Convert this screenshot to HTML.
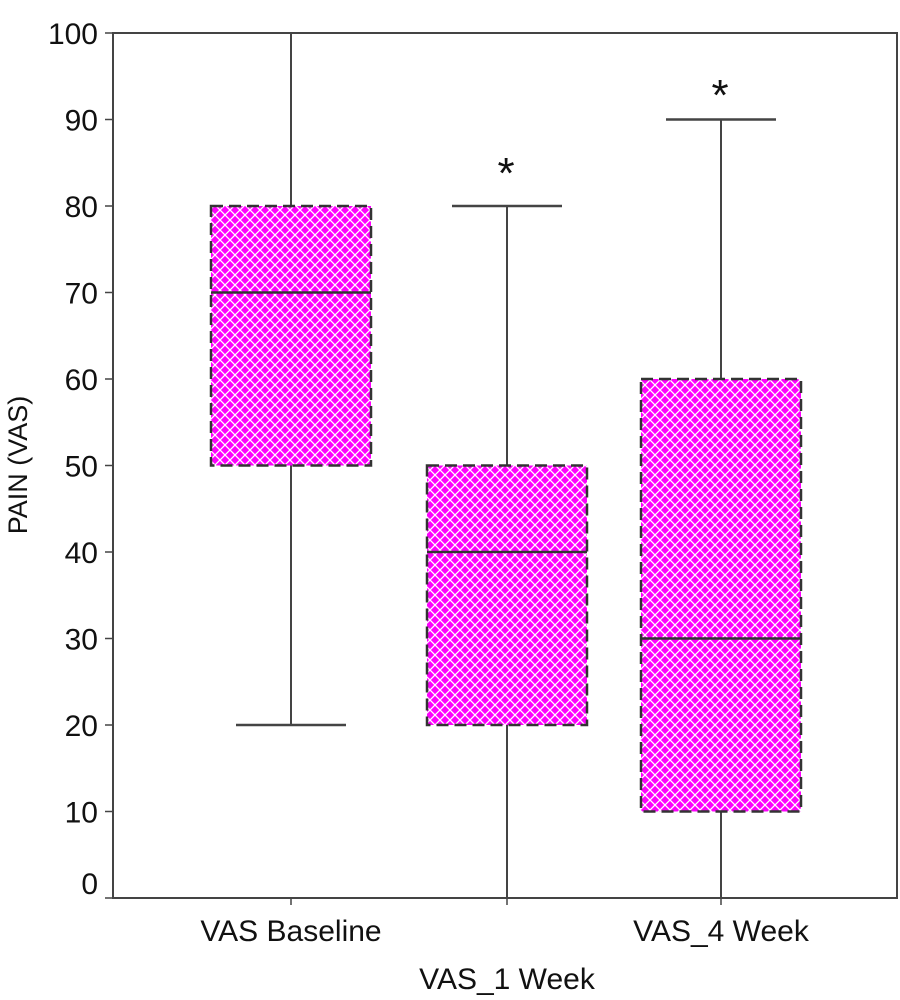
<!DOCTYPE html>
<html><head><meta charset="utf-8"><style>
html,body{margin:0;padding:0;background:#fff;}
svg{display:block;font-family:"Liberation Sans",Arial,sans-serif;}
</style></head><body>
<svg id="chart" width="900" height="1000">
<defs>
<pattern id="hatch" patternUnits="userSpaceOnUse" width="10" height="10">
<rect width="10" height="10" fill="#ff00ff"/>
<path d="M0,0 L10,10 M10,0 L0,10" stroke="#fff" stroke-width="1.3"/>
</pattern>
</defs>
<g id="axes"></g>
<g id="marks"></g>
</svg>
<script>
const categories = ["VAS Baseline", "VAS_1 Week", "VAS_4 Week"];
const mins = [20, 0, 0];
const q1s = [50, 20, 10];
const medians = [70, 40, 30];
const q3s = [80, 50, 60];
const maxs = [100, 80, 90];
const starValues = [null, 84.5, 93.5];
const yTicks = [0,10,20,30,40,50,60,70,80,90,100];

const NS="http://www.w3.org/2000/svg";
const L=113, R=897, T=33, B=898;
const y=v=>B-(v/100)*(B-T);
const xc=i=>[291,507,721][i];
function mk(tag,attrs,parent){const e=document.createElementNS(NS,tag);for(const k in attrs)e.setAttribute(k,attrs[k]);parent.appendChild(e);return e;}
const axes=document.getElementById('axes'), marks=document.getElementById('marks');

let frame=mk('rect',{x:L,y:T,width:R-L,height:B-T,fill:'none',stroke:'#444','stroke-width':2},axes);


yTicks.forEach(v=>{
  let t=mk('line',{x1:L-8,x2:L,y1:y(v),y2:y(v),stroke:'#444','stroke-width':1.5},axes);
  
  
  const ly = v===0 ? y(v)-15 : y(v);
  let lb=mk('text',{x:L-15,y:ly+11,'text-anchor':'end','font-size':30,fill:'#111'},axes);
  lb.textContent=v;
  
  
});
let yt=mk('text',{x:0,y:0,transform:'translate(27,465) rotate(-90)','text-anchor':'middle','font-size':27,fill:'#111'},axes);
yt.textContent='PAIN (VAS)';



categories.forEach((c,i)=>{
  const cx=xc(i), hw=80, cw=55;
  let tk=mk('line',{x1:cx,x2:cx,y1:B,y2:B+7,stroke:'#444','stroke-width':1.5},axes);
  
  
  let lb=mk('text',{x:cx,y:(i===1?989:941),'text-anchor':'middle','font-size':30,fill:'#111'},axes);
  lb.textContent=c;
  
  

  let w1=mk('line',{x1:cx,x2:cx,y1:y(q3s[i]),y2:y(maxs[i]),stroke:'#444','stroke-width':2},marks);
  
  
  let w2=mk('line',{x1:cx,x2:cx,y1:y(q1s[i]),y2:y(mins[i]),stroke:'#444','stroke-width':2},marks);
  
  
  if(maxs[i]<100){
    let cap=mk('line',{x1:cx-cw,x2:cx+cw,y1:y(maxs[i]),y2:y(maxs[i]),stroke:'#444','stroke-width':2.5},marks);
    
    
  }
  if(mins[i]>0){
    let cap=mk('line',{x1:cx-cw,x2:cx+cw,y1:y(mins[i]),y2:y(mins[i]),stroke:'#444','stroke-width':2.5},marks);
    
    
  }
  let bx=mk('rect',{x:cx-hw,y:y(q3s[i]),width:2*hw,height:y(q1s[i])-y(q3s[i]),fill:'url(#hatch)',stroke:'#333','stroke-width':2.5,'stroke-dasharray':'12,6'},marks);
  
  
  let md=mk('line',{x1:cx-hw,x2:cx+hw,y1:y(medians[i]),y2:y(medians[i]),stroke:'#333','stroke-width':2.5},marks);
  
  
  if(starValues[i]!==null){
    let s=mk('text',{x:cx-1,y:y(starValues[i])+21,'text-anchor':'middle','font-size':44,fill:'#111'},marks);
    s.textContent='*';
    
    
  }
});
</script>
</body></html>
